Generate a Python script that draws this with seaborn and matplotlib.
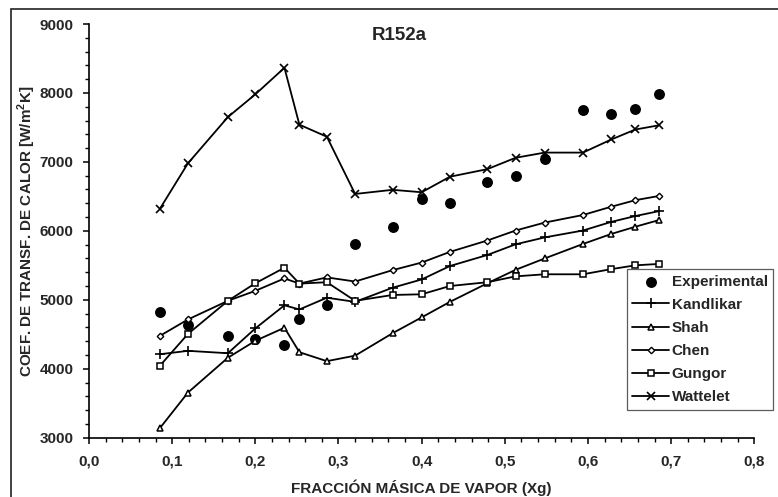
import matplotlib
matplotlib.use("Agg")
import matplotlib.pyplot as plt
from matplotlib.ticker import MultipleLocator, FuncFormatter
from matplotlib.patches import Rectangle
import seaborn as sns
import pandas as pd

x_calidad = [0.085, 0.119, 0.167, 0.200, 0.235, 0.253, 0.286, 0.320, 0.365,
             0.400, 0.434, 0.479, 0.513, 0.548, 0.594, 0.628, 0.657, 0.685]
experimental = [4830, 4635, 4480, 4435, 4340, 4720, 4930, 5810, 6060,
                6455, 6410, 6715, 6795, 7045, 7755, 7700, 7760, 7990]
kandlikar = [4210, 4260, 4225, 4585, 4920, 4860, 5030, 4970, 5175,
             5295, 5490, 5650, 5805, 5905, 6005, 6130, 6215, 6285]
shah = [3135, 3655, 4160, 4405, 4595, 4240, 4110, 4190, 4515,
        4745, 4970, 5240, 5435, 5600, 5810, 5955, 6060, 6155]
chen = [4475, 4715, 4985, 5130, 5310, 5235, 5325, 5265, 5430,
        5540, 5695, 5860, 6005, 6120, 6230, 6350, 6445, 6505]
gungor = [4040, 4505, 4985, 5240, 5465, 5235, 5255, 4985, 5070,
          5080, 5200, 5255, 5340, 5370, 5370, 5445, 5500, 5520]
wattelet = [6315, 6980, 7650, 7980, 8365, 7540, 7365, 6535, 6595,
            6560, 6785, 6895, 7060, 7135, 7135, 7325, 7470, 7530]

titulo = "R152a"
x_label = "FRACCIÓN MÁSICA DE VAPOR (Xg)"
y_label = "COEF. DE TRANSF. DE CALOR [W/m$^{\\mathregular{2}}$K]"

sns.set_theme(style="white")
plt.rcParams["font.family"] = ["Liberation Sans", "DejaVu Sans"]
plt.rcParams["font.weight"] = "bold"
plt.rcParams["mathtext.default"] = "bf"

fig = plt.figure(figsize=(7.78, 4.97), dpi=100)
ax = fig.add_axes([89 / 778, 1 - 437.7 / 497, (754.3 - 89) / 778, (437.7 - 24) / 497])

# outer frame of the chart area
fig.patches.append(Rectangle((10.5 / 778, -0.1), 1.2, 1 - 8.5 / 497 + 0.1,
                             transform=fig.transFigure, fill=False,
                             edgecolor="#222222", linewidth=1.2, zorder=0))

sns.scatterplot(x=x_calidad, y=experimental, ax=ax, color="black", s=62,
                marker="o", edgecolor="black", linewidth=0, label="Experimental",
                zorder=2)

series = [
    ("Kandlikar", kandlikar, dict(marker="+", markersize=6.5, markeredgewidth=1.2,
                                  markerfacecolor="black")),
    ("Shah", shah, dict(marker="^", markersize=5, markeredgewidth=1.1,
                        markerfacecolor="white")),
    ("Chen", chen, dict(marker="D", markersize=3.3, markeredgewidth=1.0,
                        markerfacecolor="white")),
    ("Gungor", gungor, dict(marker="s", markersize=5, markeredgewidth=1.1,
                            markerfacecolor="white")),
    ("Wattelet", wattelet, dict(marker="x", markersize=5.2, markeredgewidth=1.2,
                                markerfacecolor="black")),
]
for name, vals, mk in series:
    df = pd.DataFrame({"x": x_calidad, "y": vals})
    sns.lineplot(data=df, x="x", y="y", ax=ax, color="black", linewidth=1.3,
                 markeredgecolor="black", label=name, zorder=3, **mk)

ax.set_xlim(0, 0.8)
ax.set_ylim(3000, 9000)
ax.xaxis.set_major_locator(MultipleLocator(0.1))
ax.xaxis.set_minor_locator(MultipleLocator(0.02))
ax.yaxis.set_major_locator(MultipleLocator(1000))
ax.yaxis.set_minor_locator(MultipleLocator(200))
ax.xaxis.set_major_formatter(FuncFormatter(lambda v, p: f"{v:.1f}".replace(".", ",")))
ax.yaxis.set_major_formatter(FuncFormatter(lambda v, p: f"{int(round(v))}"))

for s in ["top", "right"]:
    ax.spines[s].set_visible(False)
for s in ["left", "bottom"]:
    ax.spines[s].set_color("black")
    ax.spines[s].set_linewidth(1.2)

ax.tick_params(axis="both", which="major", direction="out", length=4, width=1.1,
               color="black", labelsize=11, bottom=True, left=True)
ax.tick_params(axis="both", which="minor", direction="out", length=3, width=1.0,
               color="black", bottom=True, left=True)
ax.tick_params(axis="x", which="major", pad=8)
ax.tick_params(axis="y", which="major", pad=7)
for lab in ax.get_xticklabels() + ax.get_yticklabels():
    lab.set_fontweight("bold")

ax.set_xlabel(x_label, fontsize=11, fontweight="bold", labelpad=8)
ax.set_ylabel(y_label, fontsize=11, fontweight="bold", labelpad=1)
ax.text(399.7 / 778, 1 - 35 / 497, titulo, transform=fig.transFigure,
        ha="center", va="center", fontsize=13.5, fontweight="bold")

handles, labels = ax.get_legend_handles_labels()
order = ["Experimental", "Kandlikar", "Shah", "Chen", "Gungor", "Wattelet"]
hd = dict(zip(labels, handles))
leg = ax.legend([hd[k] for k in order], order, loc="upper left",
                bbox_to_anchor=(626.7 / 778, 1 - 269.3 / 497),
                bbox_transform=fig.transFigure, frameon=True, fancybox=False,
                prop={"size": 11, "weight": "bold"}, handlelength=2.45,
                handletextpad=0.15, labelspacing=0.6, borderpad=0.35,
                borderaxespad=0, markerscale=1.0)
leg.get_frame().set_edgecolor("#333333")
leg.get_frame().set_linewidth(0.9)

fig.savefig("out.png", dpi=100)
